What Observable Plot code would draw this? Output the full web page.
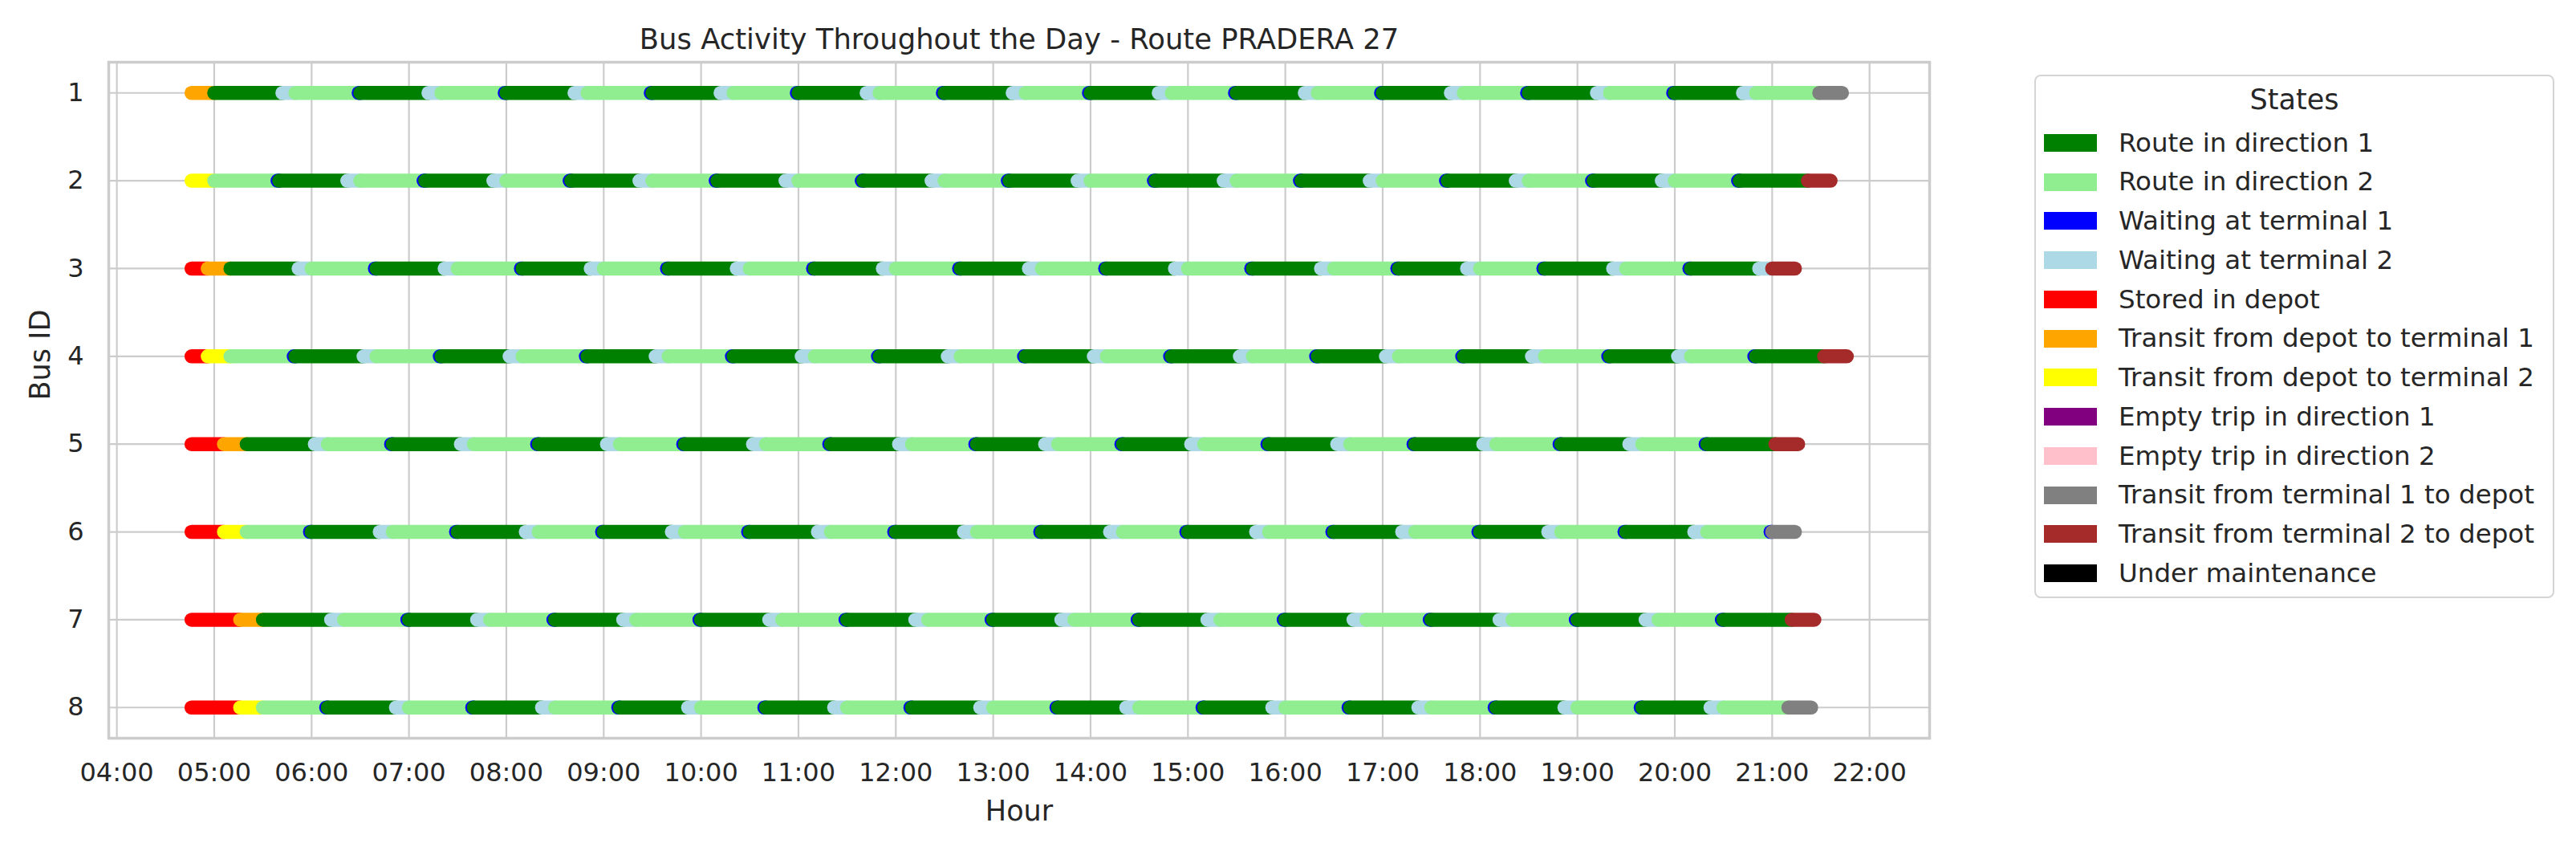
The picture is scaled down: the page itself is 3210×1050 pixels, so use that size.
<!DOCTYPE html>
<html>
<head>
<meta charset="utf-8">
<script src="https://cdn.jsdelivr.net/npm/d3@7"></script>
<script src="https://cdn.jsdelivr.net/npm/@observablehq/plot@0.6"></script>
<style>
  html, body { margin: 0; padding: 0; background: #ffffff; }
  #wrap { position: relative; width: 3210px; height: 1050px; font-family: "DejaVu Sans", sans-serif; color: #262626; overflow: hidden; }
  #chart { position: absolute; left: 0; top: 0; }
  #legend { position: absolute; left: 2535px; top: 93px; width: 648px; height: 652px; border: 2px solid #d4d4d4; border-radius: 8px; box-sizing: border-box; background: #ffffff; }
  #legend .ltitle { padding-top: 9px; height: 40px; line-height: 40px; font-size: 35px; text-align: center; }
  #legend .rows { margin-top: 9.6px; }
  #legend .row { height: 48.75px; display: flex; align-items: center; }
  #legend .sw { margin-left: 10px; width: 66px; height: 22px; flex: none; }
  #legend .lab { margin-left: 27px; font-size: 32.5px; line-height: 48.75px; white-space: nowrap; }
</style>
</head>
<body>
<div id="wrap"><div id="chart"></div><div id="legend"></div></div>
<script>
// ---- data ----
const chartTitle = "Bus Activity Throughout the Day - Route PRADERA 27";
const xLabel = "Hour";
const yLabel = "Bus ID";
const legendTitle = "States";

const stateCodes = ["R1", "R2", "W1", "W2", "SD", "D1", "D2", "E1", "E2", "T1", "T2", "M"];
const stateNames = [
  "Route in direction 1",
  "Route in direction 2",
  "Waiting at terminal 1",
  "Waiting at terminal 2",
  "Stored in depot",
  "Transit from depot to terminal 1",
  "Transit from depot to terminal 2",
  "Empty trip in direction 1",
  "Empty trip in direction 2",
  "Transit from terminal 1 to depot",
  "Transit from terminal 2 to depot",
  "Under maintenance"
];
const stateColors = ["green", "lightgreen", "blue", "lightblue", "red", "orange", "yellow", "purple", "pink", "gray", "brown", "black"];

const busIds = [1, 2, 3, 4, 5, 6, 7, 8];

const hourTicks = ["04:00", "05:00", "06:00", "07:00", "08:00", "09:00", "10:00", "11:00", "12:00",
  "13:00", "14:00", "15:00", "16:00", "17:00", "18:00", "19:00", "20:00", "21:00", "22:00"];

// each bus: "start state" changes, the last token is the end of the day
const bus1 = "04:46 D1,05:00 R1,05:42 W2,05:50 R2,06:29 W1,06:30 R1,07:12 W2,07:20 R2,07:59 W1,08:00 R1,08:42 W2,08:50 R2,09:29 W1,09:30 R1,10:12 W2,10:20 R2,10:59 W1,11:00 R1,11:42 W2,11:50 R2,12:29 W1,12:30 R1,13:12 W2,13:20 R2,13:59 W1,14:00 R1,14:42 W2,14:50 R2,15:29 W1,15:30 R1,16:12 W2,16:20 R2,16:59 W1,17:00 R1,17:42 W2,17:50 R2,18:29 W1,18:30 R1,19:12 W2,19:20 R2,19:59 W1,20:00 R1,20:42 W2,20:50 R2,21:29 T1,21:43 END";
const bus2 = "04:46 D2,05:00 R2,05:39 W1,05:40 R1,06:22 W2,06:30 R2,07:09 W1,07:10 R1,07:52 W2,08:00 R2,08:39 W1,08:40 R1,09:22 W2,09:30 R2,10:09 W1,10:10 R1,10:52 W2,11:00 R2,11:39 W1,11:40 R1,12:22 W2,12:30 R2,13:09 W1,13:10 R1,13:52 W2,14:00 R2,14:39 W1,14:40 R1,15:22 W2,15:30 R2,16:09 W1,16:10 R1,16:52 W2,17:00 R2,17:39 W1,17:40 R1,18:22 W2,18:30 R2,19:09 W1,19:10 R1,19:52 W2,20:00 R2,20:39 W1,20:40 R1,21:22 T2,21:36 END";
const bus3 = "04:46 SD,04:56 D1,05:10 R1,05:52 W2,06:00 R2,06:39 W1,06:40 R1,07:22 W2,07:30 R2,08:09 W1,08:10 R1,08:52 W2,09:00 R2,09:39 W1,09:40 R1,10:22 W2,10:30 R2,11:09 W1,11:10 R1,11:52 W2,12:00 R2,12:39 W1,12:40 R1,13:22 W2,13:30 R2,14:09 W1,14:10 R1,14:52 W2,15:00 R2,15:39 W1,15:40 R1,16:22 W2,16:30 R2,17:09 W1,17:10 R1,17:52 W2,18:00 R2,18:39 W1,18:40 R1,19:22 W2,19:30 R2,20:09 W1,20:10 R1,20:52 W2,21:00 T2,21:14 END";
const bus4 = "04:46 SD,04:56 D2,05:10 R2,05:49 W1,05:50 R1,06:32 W2,06:40 R2,07:19 W1,07:20 R1,08:02 W2,08:10 R2,08:49 W1,08:50 R1,09:32 W2,09:40 R2,10:19 W1,10:20 R1,11:02 W2,11:10 R2,11:49 W1,11:50 R1,12:32 W2,12:40 R2,13:19 W1,13:20 R1,14:02 W2,14:10 R2,14:49 W1,14:50 R1,15:32 W2,15:40 R2,16:19 W1,16:20 R1,17:02 W2,17:10 R2,17:49 W1,17:50 R1,18:32 W2,18:40 R2,19:19 W1,19:20 R1,20:02 W2,20:10 R2,20:49 W1,20:50 R1,21:32 T2,21:46 END";
const bus5 = "04:46 SD,05:06 D1,05:20 R1,06:02 W2,06:10 R2,06:49 W1,06:50 R1,07:32 W2,07:40 R2,08:19 W1,08:20 R1,09:02 W2,09:10 R2,09:49 W1,09:50 R1,10:32 W2,10:40 R2,11:19 W1,11:20 R1,12:02 W2,12:10 R2,12:49 W1,12:50 R1,13:32 W2,13:40 R2,14:19 W1,14:20 R1,15:02 W2,15:10 R2,15:49 W1,15:50 R1,16:32 W2,16:40 R2,17:19 W1,17:20 R1,18:02 W2,18:10 R2,18:49 W1,18:50 R1,19:32 W2,19:40 R2,20:19 W1,20:20 R1,21:02 T2,21:16 END";
const bus6 = "04:46 SD,05:06 D2,05:20 R2,05:59 W1,06:00 R1,06:42 W2,06:50 R2,07:29 W1,07:30 R1,08:12 W2,08:20 R2,08:59 W1,09:00 R1,09:42 W2,09:50 R2,10:29 W1,10:30 R1,11:12 W2,11:20 R2,11:59 W1,12:00 R1,12:42 W2,12:50 R2,13:29 W1,13:30 R1,14:12 W2,14:20 R2,14:59 W1,15:00 R1,15:42 W2,15:50 R2,16:29 W1,16:30 R1,17:12 W2,17:20 R2,17:59 W1,18:00 R1,18:42 W2,18:50 R2,19:29 W1,19:30 R1,20:12 W2,20:20 R2,20:59 W1,21:00 T1,21:14 END";
const bus7 = "04:46 SD,05:16 D1,05:30 R1,06:12 W2,06:20 R2,06:59 W1,07:00 R1,07:42 W2,07:50 R2,08:29 W1,08:30 R1,09:12 W2,09:20 R2,09:59 W1,10:00 R1,10:42 W2,10:50 R2,11:29 W1,11:30 R1,12:12 W2,12:20 R2,12:59 W1,13:00 R1,13:42 W2,13:50 R2,14:29 W1,14:30 R1,15:12 W2,15:20 R2,15:59 W1,16:00 R1,16:42 W2,16:50 R2,17:29 W1,17:30 R1,18:12 W2,18:20 R2,18:59 W1,19:00 R1,19:42 W2,19:50 R2,20:29 W1,20:30 R1,21:12 T2,21:26 END";
const bus8 = "04:46 SD,05:16 D2,05:30 R2,06:09 W1,06:10 R1,06:52 W2,07:00 R2,07:39 W1,07:40 R1,08:22 W2,08:30 R2,09:09 W1,09:10 R1,09:52 W2,10:00 R2,10:39 W1,10:40 R1,11:22 W2,11:30 R2,12:09 W1,12:10 R1,12:52 W2,13:00 R2,13:39 W1,13:40 R1,14:22 W2,14:30 R2,15:09 W1,15:10 R1,15:52 W2,16:00 R2,16:39 W1,16:40 R1,17:22 W2,17:30 R2,18:09 W1,18:10 R1,18:52 W2,19:00 R2,19:39 W1,19:40 R1,20:22 W2,20:30 R2,21:10 T1,21:24 END";
const busSchedules = [bus1, bus2, bus3, bus4, bus5, bus6, bus7, bus8];

// ---- build segments table ----
const toMin = s => { const [h, m] = s.split(":").map(Number); return h * 60 + m; };
const segments = [];
busSchedules.forEach((sched, bi) => {
  const toks = sched.split(",").map(t => t.trim().split(/\s+/));
  for (let i = 0; i < toks.length - 1; i++) {
    const code = toks[i][1];
    segments.push({
      bus: busIds[bi],
      start: toMin(toks[i][0]),
      end: toMin(toks[i + 1][0]),
      state: stateNames[stateCodes.indexOf(code)]
    });
  }
});

const tMin = d3.min(segments, d => d.start);
const tMax = d3.max(segments, d => d.end);
const pad = 0.05 * (tMax - tMin);
const hourVals = hourTicks.map(toMin);
const hourLabel = new Map(hourTicks.map(t => [toMin(t), t]));

const W = 3210, H = 1050;
const mL = 135, mR = 806, mT = 77, mB = 131;

const chart = Plot.plot({
  width: W,
  height: H,
  marginLeft: mL,
  marginRight: mR,
  marginTop: mT,
  marginBottom: mB,
  style: { fontFamily: "DejaVu Sans, sans-serif", fontSize: "32px", color: "#262626", background: "#ffffff", overflow: "visible" },
  x: { domain: [tMin - pad, tMax + pad] },
  y: { domain: [0.65, 8.35], reverse: true },
  color: { domain: stateNames, range: stateColors },
  marks: [
    Plot.gridX(hourVals, { stroke: "#cccccc", strokeOpacity: 1, strokeWidth: 2.2 }),
    Plot.gridY(busIds, { stroke: "#cccccc", strokeOpacity: 1, strokeWidth: 2.2 }),
    Plot.link(segments, {
      x1: "start", x2: "end", y1: "bus", y2: "bus",
      stroke: "state", strokeWidth: 17.5, strokeLinecap: "round"
    }),
    Plot.frame({ stroke: "#cccccc", strokeWidth: 3.5 }),
    Plot.axisX(hourVals, { tickSize: 0, tickPadding: 31, tickFormat: d => hourLabel.get(d), label: null, fontSize: 32 }),
    Plot.axisY(busIds, { tickSize: 0, tickPadding: 31, tickFormat: d => String(d), label: null, fontSize: 32 }),
    Plot.text([chartTitle], { text: d => d, frameAnchor: "top", dy: -28, fontSize: 35.4, lineAnchor: "middle" }),
    Plot.text([xLabel], { text: d => d, frameAnchor: "bottom", dy: 91, fontSize: 35, lineAnchor: "middle" }),
    Plot.text([yLabel], { text: d => d, frameAnchor: "left", dx: -85, rotate: -90, fontSize: 35, lineAnchor: "middle" })
  ]
});
document.getElementById("chart").appendChild(chart);

// ---- legend ----
const leg = document.getElementById("legend");
const lt = document.createElement("div");
lt.className = "ltitle";
lt.textContent = legendTitle;
leg.appendChild(lt);
const rows = document.createElement("div");
rows.className = "rows";
stateNames.forEach((name, i) => {
  const r = document.createElement("div");
  r.className = "row";
  const sw = document.createElement("div");
  sw.className = "sw";
  sw.style.background = stateColors[i];
  const lab = document.createElement("div");
  lab.className = "lab";
  lab.textContent = name;
  r.appendChild(sw);
  r.appendChild(lab);
  rows.appendChild(r);
});
leg.appendChild(rows);
</script>
</body>
</html>
